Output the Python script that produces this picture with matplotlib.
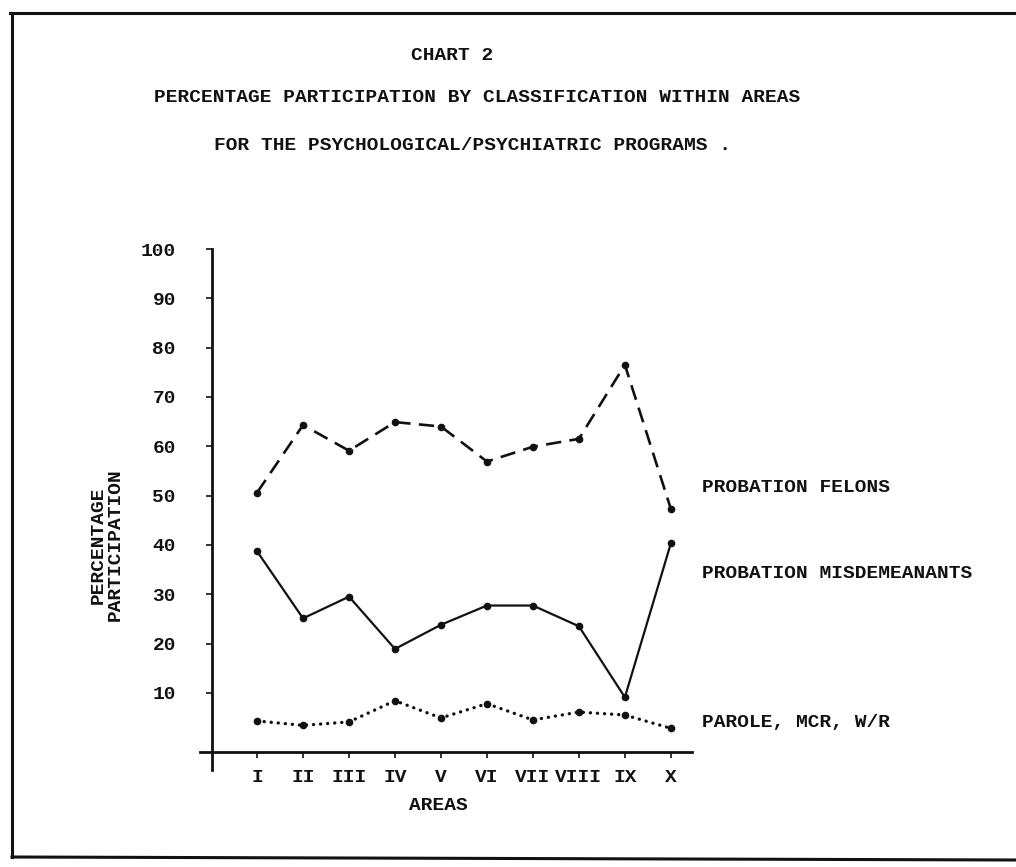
import matplotlib
matplotlib.use("Agg")
import matplotlib.pyplot as plt
from matplotlib.lines import Line2D

plt.rcParams['font.family'] = ['Liberation Mono', 'DejaVu Sans Mono']
plt.rcParams['font.weight'] = 'bold'
plt.rcParams['lines.scale_dashes'] = False

# data
areas = ['I', 'II', 'III', 'IV', 'V', 'VI', 'VII', 'VIII', 'IX', 'X']
felons = [50.6, 64.3, 59.1, 64.9, 64.0, 56.9, 59.9, 61.5, 76.5, 47.3]
misdemeanants = [38.7, 25.1, 29.5, 18.9, 23.8, 27.7, 27.7, 23.5, 9.1, 40.3]
parole = [4.3, 3.4, 4.1, 8.4, 4.9, 7.8, 4.5, 6.1, 5.5, 2.8]
y_ticks = [10, 20, 30, 40, 50, 60, 70, 80, 90, 100]

W, H = 1016, 867
fig = plt.figure(figsize=(W / 100, H / 100), dpi=100)
ax = fig.add_axes([212 / W, 1 - 752 / H, 480 / W, 503 / H])

x = list(range(1, len(areas) + 1))
ink = '#111111'

ax.plot(x, felons, color=ink, lw=1.9, dashes=(11, 6), marker='o', ms=4.5)
ax.plot(x, misdemeanants, color=ink, lw=1.6, marker='o', ms=4.5)
ax.plot(x, parole, color=ink, lw=2.4, linestyle=(0, (0.1, 5)),
        dash_capstyle='round', solid_capstyle='round', marker='o', ms=4.5)

ax.set_xlim(0.02, 10.46)
ax.set_ylim(-2, 100)
ax.set_xticks(x)
ax.set_xticklabels(areas)
ax.set_yticks(y_ticks)
ax.set_yticklabels([str(v) for v in y_ticks])
ax.tick_params(axis='both', labelsize=14, colors=ink, length=4, width=1.2)
ax.tick_params(axis='y', pad=22)
ax.tick_params(axis='x', pad=8)

for s in ax.spines.values():
    s.set_visible(False)
# axis lines, crossing a little at the origin
ax.add_line(Line2D([0, 0], [-0.036, 1.0], transform=ax.transAxes, color=ink, lw=2, clip_on=False))
ax.add_line(Line2D([-0.025, 1.0], [0, 0], transform=ax.transAxes, color=ink, lw=2, clip_on=False))

# series labels on the right
ax.text(1.021, (752 - 487) / 503, 'PROBATION FELONS', transform=ax.transAxes,
        fontsize=14, va='center', ha='left', color=ink)
ax.text(1.021, (752 - 573) / 503, 'PROBATION MISDEMEANANTS', transform=ax.transAxes,
        fontsize=14, va='center', ha='left', color=ink)
ax.text(1.021, (752 - 723) / 503, 'PAROLE, MCR, W/R', transform=ax.transAxes,
        fontsize=14, va='center', ha='left', color=ink)

# axis titles
fig.text(438 / W, 1 - 806 / H, 'AREAS', fontsize=14, ha='center', va='center', color=ink)
fig.text(107 / W, 1 - 545 / H, 'PERCENTAGE\nPARTICIPATION', fontsize=14, rotation=90,
         ha='center', va='center', multialignment='center', linespacing=1.0, color=ink)

# headings
fig.text(452 / W, 1 - 55 / H, 'CHART 2', fontsize=14, ha='center', va='center', color=ink)
fig.text(477 / W, 1 - 98 / H, 'PERCENTAGE PARTICIPATION BY CLASSIFICATION WITHIN AREAS',
         fontsize=14, ha='center', va='center', color=ink)
fig.text(473 / W, 1 - 145 / H, 'FOR THE PSYCHOLOGICAL/PSYCHIATRIC PROGRAMS .',
         fontsize=14, ha='center', va='center', color=ink)

# page border
fig.add_artist(Line2D([10 / W, 1.0], [1 - 13 / H, 1 - 13 / H], color=ink, lw=2.2))
fig.add_artist(Line2D([12 / W, 12 / W], [1 - 13 / H, 1 - 857 / H], color=ink, lw=2.2))
fig.add_artist(Line2D([12 / W, 1.0], [1 - 857 / H, 1 - 860 / H], color=ink, lw=2.2))

fig.savefig('out.png', dpi=100)
